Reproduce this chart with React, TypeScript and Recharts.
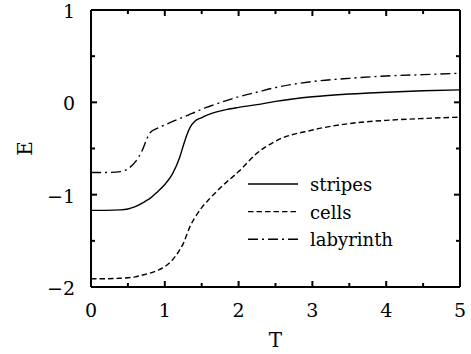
import { LineChart, Line, XAxis, YAxis, Legend, Label } from "recharts"

// temperature grid and energy per pattern
const temperature = [0, 0.2, 0.4, 0.5, 0.6, 0.7, 0.75, 0.8, 0.9, 1.0, 1.1, 1.2, 1.25, 1.3, 1.35, 1.4, 1.5, 1.6, 1.8, 2.0, 2.25, 2.5, 3, 3.5, 4, 4.5, 5]
const stripes = [-1.17, -1.17, -1.165, -1.155, -1.13, -1.09, -1.065, -1.04, -0.97, -0.89, -0.78, -0.6, -0.47, -0.35, -0.26, -0.21, -0.165, -0.13, -0.085, -0.055, -0.025, 0.01, 0.06, 0.09, 0.11, 0.125, 0.135]
const cells = [-1.91, -1.91, -1.905, -1.9, -1.89, -1.87, -1.86, -1.85, -1.82, -1.78, -1.71, -1.6, -1.53, -1.43, -1.33, -1.26, -1.14, -1.05, -0.89, -0.75, -0.55, -0.42, -0.3, -0.23, -0.195, -0.175, -0.16]
const labyrinth = [-0.76, -0.76, -0.75, -0.72, -0.645, -0.51, -0.41, -0.33, -0.28, -0.245, -0.21, -0.175, -0.16, -0.145, -0.125, -0.11, -0.075, -0.045, 0.01, 0.06, 0.11, 0.16, 0.225, 0.26, 0.285, 0.3, 0.315]

// ticks every 0.5, labels only on whole numbers
const tTicks = [0, 0.5, 1, 1.5, 2, 2.5, 3, 3.5, 4, 4.5, 5]
const eTicks = [-2, -1.5, -1, -0.5, 0, 0.5, 1]

const series = [
	{ key: "stripes", dash: undefined },
	{ key: "cells", dash: "5.5 3" },
	{ key: "labyrinth", dash: "10 4 2 4" },
]

const data = temperature.map((t, i) => ({ T: t, stripes: stripes[i], cells: cells[i], labyrinth: labyrinth[i] }))

const W = 471
const H = 354
const margin = { top: 9, right: 10, bottom: 66, left: 90 }
const plotTop = margin.top + 1
const plotRight = W - margin.right - 1

// DejaVu Serif is the serif face that resolves inside svg text here
const font = "DejaVu Serif"
const axisLine = { stroke: "#000", strokeWidth: 2 }
const isMajor = (v: number) => Number.isInteger(v)
const label = (v: number) => String(v).replace("-", "\u2212")
const tickLen = (v: number) => (isMajor(v) ? 6 : 4)

// bottom tick + its mirror on the top frame
function BottomTick(props: any) {
	const { x, y, payload } = props
	const v = payload.value
	return (
		<g>
			<line x1={x} x2={x} y1={y} y2={y - tickLen(v)} stroke="#000" strokeWidth={2} />
			<line x1={x} x2={x} y1={plotTop} y2={plotTop + tickLen(v)} stroke="#000" strokeWidth={2} />
			{isMajor(v) && (
				<text x={x} y={y + 30} textAnchor="middle" fontSize={19} fontFamily={font} fill="#000">
					{label(v)}
				</text>
			)}
		</g>
	)
}

// left tick + its mirror on the right frame
function LeftTick(props: any) {
	const { x, y, payload } = props
	const v = payload.value
	return (
		<g>
			<line x1={x} x2={x + tickLen(v)} y1={y} y2={y} stroke="#000" strokeWidth={2} />
			<line x1={plotRight} x2={plotRight - tickLen(v)} y1={y} y2={y} stroke="#000" strokeWidth={2} />
			{isMajor(v) && (
				<text x={x - 16} y={y + 8} textAnchor="end" fontSize={19} fontFamily={font} fill="#000">
					{label(v)}
				</text>
			)}
		</g>
	)
}

function LegendBox() {
	return (
		<svg width={200} height={90}>
			{series.map((s, i) => (
				<g key={s.key}>
					<line x1={0} x2={50} y1={12 + i * 27.6} y2={12 + i * 27.6} stroke="#000" strokeWidth={1.4} strokeDasharray={s.dash} />
					<text x={62} y={19 + i * 27.6} fontSize={18} fontFamily={font} fill="#000">
						{s.key}
					</text>
				</g>
			))}
		</svg>
	)
}

function YLabel(props: any) {
	const { x, y, width, height } = props.viewBox
	const cx = x + width - 66
	const cy = y + height / 2
	return (
		<text x={cx} y={cy} transform={`rotate(-90 ${cx} ${cy})`} textAnchor="middle" dominantBaseline="central" fontSize={20} fontFamily={font} fill="#000">
			E
		</text>
	)
}

function XLabel(props: any) {
	const { x, y, width, height } = props.viewBox
	return (
		<text x={x + width / 2} y={y + height + 59} textAnchor="middle" fontSize={20} fontFamily={font} fill="#000">
			T
		</text>
	)
}

export default function App() {
	return (
		<div style={{ position: "absolute", left: 0, top: 0 }}>
			<LineChart width={W} height={H} data={data} margin={margin}>
				<XAxis dataKey="T" type="number" domain={[0, 5]} allowDataOverflow ticks={tTicks} interval={0} height={1} tickSize={0} tickMargin={0} tickLine={false} axisLine={axisLine} tick={BottomTick}>
					<Label content={XLabel} />
				</XAxis>
				<XAxis xAxisId="top" orientation="top" dataKey="T" type="number" domain={[0, 5]} allowDataOverflow height={1} tickLine={false} axisLine={axisLine} tick={false} />
				<YAxis type="number" domain={[-2, 1]} allowDataOverflow ticks={eTicks} interval={0} width={1} tickSize={0} tickMargin={0} tickLine={false} axisLine={axisLine} tick={LeftTick}>
					<Label content={YLabel} />
				</YAxis>
				<YAxis yAxisId="right" orientation="right" type="number" domain={[-2, 1]} allowDataOverflow width={1} tickLine={false} axisLine={axisLine} tick={false} />
				<Legend layout="vertical" align="center" verticalAlign="middle" content={<LegendBox />} wrapperStyle={{ left: 248, top: 172, width: 200, height: 90 }} />
				{series.map((s) => (
					<Line key={s.key} dataKey={s.key} type="monotone" stroke="#000" strokeWidth={1.4} strokeDasharray={s.dash} dot={false} activeDot={false} isAnimationActive={false} />
				))}
			</LineChart>
		</div>
	)
}
